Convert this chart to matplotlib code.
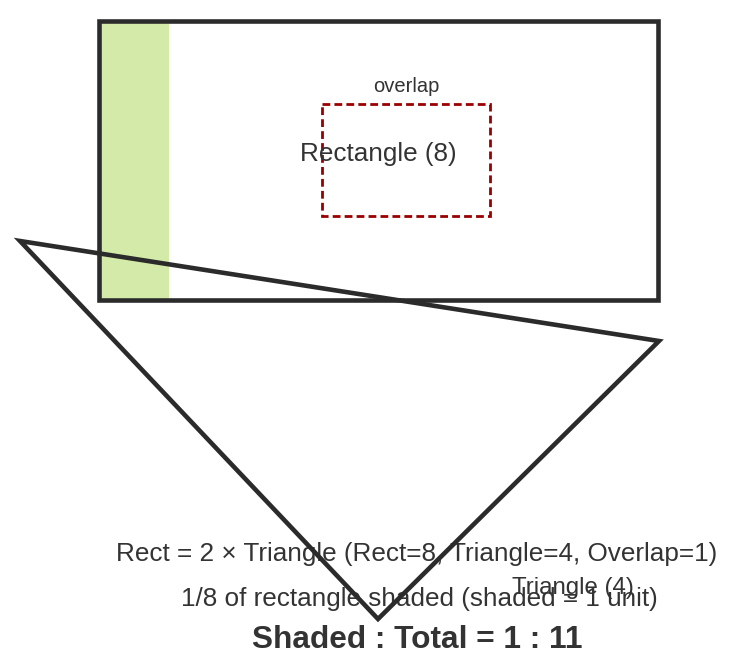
import matplotlib
matplotlib.use("Agg")
import matplotlib.pyplot as plt
from matplotlib.patches import Rectangle, Polygon

plt.rcParams['font.family'] = ['Liberation Sans', 'DejaVu Sans']

# Geometry of the diagram (canvas pixel units, y downward)
rect_box = [99, 21, 559, 279]          # x, y, width, height of the big rectangle
shaded_fraction = 1 / 8                 # shaded strip = 1/8 of rectangle width
overlap_box = [322, 104, 168, 112]      # dashed overlap region
triangle_pts = [[20, 241], [659, 341], [378, 619]]

labels = {
    "overlap": "overlap",
    "rect": "Rectangle (8)",
    "tri": "Triangle (4)",
    "rel": "Rect = 2 × Triangle (Rect=8, Triangle=4, Overlap=1)",
    "frac": "1/8 of rectangle shaded (shaded = 1 unit)",
    "ratio": "Shaded : Total = 1 : 11",
}

W, H = 735, 667
fig = plt.figure(figsize=(W / 100, H / 100), dpi=100)
ax = fig.add_axes([0, 0, 1, 1])
ax.set_xlim(0, W)
ax.set_ylim(H, 0)
ax.axis('off')

x, y, w, h = rect_box
ax.add_patch(Rectangle((x, y), w * shaded_fraction, h, facecolor='#d4eaa8', edgecolor='none', zorder=1))
ax.add_patch(Rectangle((x, y), w, h, facecolor='none', edgecolor='#2b2b2b', linewidth=3.3, zorder=3,
                       joinstyle='miter'))
ox, oy, ow, oh = overlap_box
ax.add_patch(Rectangle((ox, oy), ow, oh, facecolor='none', edgecolor='#9a0000', linewidth=2.0,
                       linestyle=(0, (2.8, 1.5)), zorder=3))
ax.add_patch(Polygon(triangle_pts, closed=True, facecolor='none', edgecolor='#2b2b2b', linewidth=3.3,
                     joinstyle='miter', zorder=6))

tc = '#333333'
ax.text(406, 87, labels["overlap"], ha='center', va='center', fontsize=14.5, color=tc, zorder=5)
ax.text(378, 154, labels["rect"], ha='center', va='center', fontsize=18.8, color=tc, zorder=5)
ax.text(417, 554, labels["rel"], ha='center', va='center', fontsize=18.8, color=tc, zorder=5)
ax.text(419, 599, labels["frac"], ha='center', va='center', fontsize=18.8, color=tc, zorder=5)
ax.text(573, 588, labels["tri"], ha='center', va='center', fontsize=17.3, color=tc, zorder=5)
ax.text(417, 640, labels["ratio"], ha='center', va='center', fontsize=22.8, fontweight='bold', color=tc, zorder=5)

fig.savefig("out.png", dpi=100, facecolor='white')
